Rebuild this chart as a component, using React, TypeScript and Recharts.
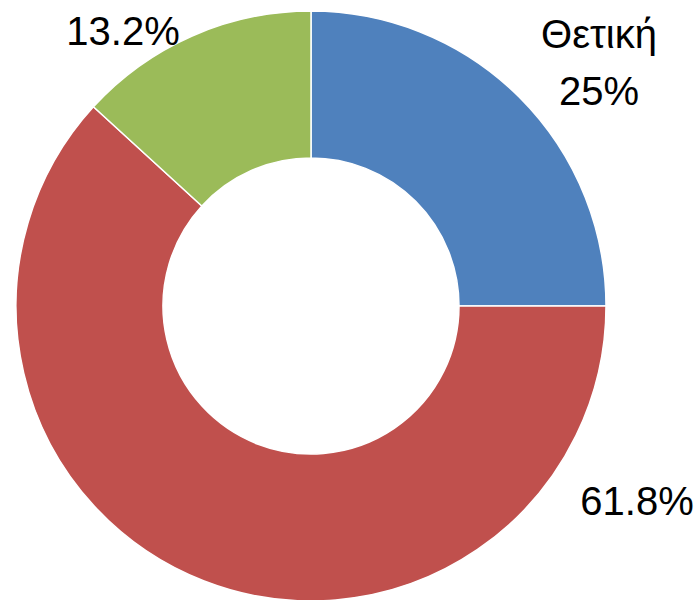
import { PieChart, Pie, Cell } from "recharts";

const categories = ["Θετική", "", ""];
const values = [25, 61.8, 13.2];
const valueLabels = ["25%", "61.8%", "13.2%"];
const colors = ["#4F81BD", "#C0504D", "#9BBB59"];

// label anchor points (baseline of the value line)
const labelSpots = [
  { x: 599, y: 105 },
  { x: 637, y: 515 },
  { x: 123, y: 45 },
];

const data = categories.map((name, i) => ({ name, value: values[i] }));

const FONT = "'Liberation Sans', Arial, sans-serif";

function renderLabel(props: any) {
  const i = props.index;
  const spot = labelSpots[i];
  const name = categories[i];
  return (
    <text
      key={`lbl-${i}`}
      x={spot.x}
      y={spot.y}
      textAnchor="middle"
      fill="#000"
      fontSize={40}
      fontFamily={FONT}
    >
      {name && (
        <tspan x={spot.x} dy={-57}>
          {name}
        </tspan>
      )}
      <tspan x={spot.x} dy={name ? 57 : 0}>
        {valueLabels[i]}
      </tspan>
    </text>
  );
}

export default function App() {
  return (
    <div style={{ position: "absolute", left: 0, top: 0, width: 699, height: 600, background: "#fff" }}>
      <PieChart width={699} height={600} margin={{ top: 0, right: 0, bottom: 0, left: 0 }}>
        <Pie
          data={data}
          dataKey="value"
          nameKey="name"
          cx={311}
          cy={306}
          innerRadius={148}
          outerRadius={295}
          startAngle={90}
          endAngle={-270}
          stroke="#fff"
          strokeWidth={1.5}
          label={renderLabel}
          labelLine={false}
          isAnimationActive={false}
        >
          {data.map((d, i) => (
            <Cell key={d.value} fill={colors[i]} />
          ))}
        </Pie>
      </PieChart>
    </div>
  );
}
